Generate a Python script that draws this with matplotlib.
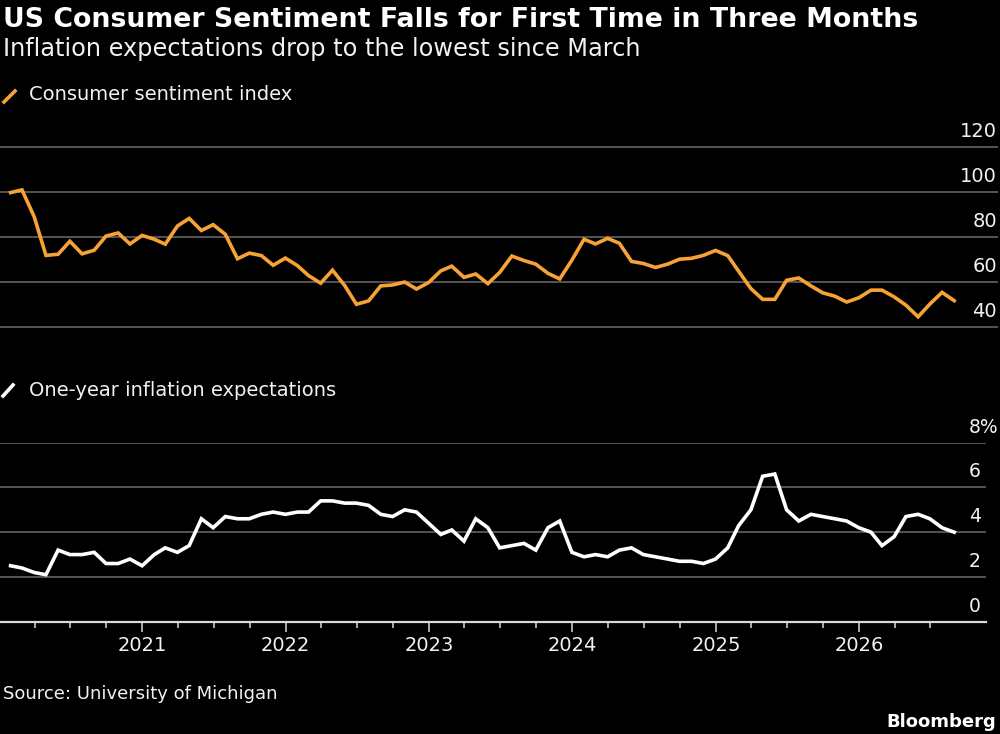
import matplotlib
matplotlib.use('Agg')
import matplotlib.pyplot as plt
import matplotlib.dates as mdates
import matplotlib.transforms as mtransforms
from matplotlib.lines import Line2D
import pandas as pd

# monthly data, Jan 2020 - Aug 2026 (plotted at month end)
dates = pd.date_range('2020-01-31', periods=80, freq='ME')

sentiment = [
    99.8, 101.0, 89.1, 71.8, 72.3, 78.1, 72.5, 74.1, 80.4, 81.8, 76.9, 80.7,
    79.0, 76.8, 84.9, 88.3, 82.9, 85.5, 81.2, 70.3, 72.8, 71.7, 67.4, 70.6,
    67.2, 62.8, 59.4, 65.2, 58.4, 50.0, 51.5, 58.2, 58.6, 59.9, 56.8, 59.7,
    64.9, 67.0, 62.0, 63.5, 59.2, 64.2, 71.5, 69.5, 67.9, 63.8, 61.3, 69.7,
    79.0, 76.9, 79.4, 77.2, 69.1, 68.2, 66.4, 67.9, 70.1, 70.5, 71.8, 74.0,
    71.7, 64.7, 57.0, 52.2, 52.2, 60.7, 61.7, 58.2, 55.1, 53.6, 51.0, 52.9,
    56.3, 56.3, 53.3, 49.6, 44.4, 50.1, 55.3, 51.6,
]

inflation = [
    2.5, 2.4, 2.2, 2.1, 3.2, 3.0, 3.0, 3.1, 2.6, 2.6, 2.8, 2.5,
    3.0, 3.3, 3.1, 3.4, 4.6, 4.2, 4.7, 4.6, 4.6, 4.8, 4.9, 4.8,
    4.9, 4.9, 5.4, 5.4, 5.3, 5.3, 5.2, 4.8, 4.7, 5.0, 4.9, 4.4,
    3.9, 4.1, 3.6, 4.6, 4.2, 3.3, 3.4, 3.5, 3.2, 4.2, 4.5, 3.1,
    2.9, 3.0, 2.9, 3.2, 3.3, 3.0, 2.9, 2.8, 2.7, 2.7, 2.6, 2.8,
    3.3, 4.3, 5.0, 6.5, 6.6, 5.0, 4.5, 4.8, 4.7, 4.6, 4.5, 4.2,
    4.0, 3.4, 3.8, 4.7, 4.8, 4.6, 4.2, 4.0,
]

sent_ticks = [40, 60, 80, 100, 120]
infl_ticks = [0, 2, 4, 6, 8]
infl_labels = ['0', '2', '4', '6', '8%']

title = 'US Consumer Sentiment Falls for First Time in Three Months'
subtitle = 'Inflation expectations drop to the lowest since March'
label_sent = 'Consumer sentiment index'
label_infl = 'One-year inflation expectations'
source = 'Source: University of Michigan'

ORANGE = '#f7a235'
GRID = '#555555'
AXIS = '#d9d9d9'
TEXT = '#f2f2f2'

plt.rcParams['font.family'] = ['DejaVu Sans']

W, H = 1000, 734
fig = plt.figure(figsize=(W / 100, H / 100), dpi=100, facecolor='black')


def px_axes(x0, y_top, x1, y_bot):
    return fig.add_axes([x0 / W, 1 - y_bot / H, (x1 - x0) / W, (y_bot - y_top) / H])


def fy(y):
    return 1 - y / H


xmin = pd.Timestamp('2020-01-04')
xmax = pd.Timestamp('2026-11-20')

ax1 = px_axes(0, 147.3, 986, 326.7)
ax2 = px_axes(0, 442.7, 986, 621.7)

for ax in (ax1, ax2):
    ax.set_facecolor('black')
    ax.set_xlim(xmin, xmax)
    for s in ax.spines.values():
        s.set_visible(False)
    ax.set_yticks([])

# top panel
ax1.set_ylim(40, 120)
ax1.set_xticks([])
for v in sent_ticks:
    ax1.axhline(v, xmin=0, xmax=997 / 986, color=GRID, lw=1.4, clip_on=False, zorder=1)
ax1.plot(dates, sentiment, color=ORANGE, lw=2.6, solid_joinstyle='miter', clip_on=False, zorder=3)
lab_tr = mtransforms.offset_copy(
    mtransforms.blended_transform_factory(fig.transFigure, ax1.transData),
    fig=fig, y=10, units='dots')
for v in sent_ticks:
    ax1.text(997 / W, v, str(v), transform=lab_tr, ha='right', va='baseline',
             color=TEXT, fontsize=14)

# bottom panel
ax2.set_ylim(0, 8)
for v in infl_ticks[1:]:
    ax2.axhline(v, color=GRID, lw=1.4, zorder=1)
ax2.spines['bottom'].set_visible(True)
ax2.spines['bottom'].set_color(AXIS)
ax2.spines['bottom'].set_linewidth(1.6)
ax2.plot(dates, inflation, color='white', lw=2.6, solid_joinstyle='miter', clip_on=False, zorder=3)
lab_tr2 = mtransforms.offset_copy(
    mtransforms.blended_transform_factory(fig.transFigure, ax2.transData),
    fig=fig, y=10, units='dots')
for v, t in zip(infl_ticks, infl_labels):
    ax2.text(969 / W, v, t, transform=lab_tr2, ha='left', va='baseline',
             color=TEXT, fontsize=13.5)

ax2.xaxis.set_major_locator(mdates.YearLocator())
ax2.xaxis.set_major_formatter(mdates.DateFormatter('%Y'))
ax2.tick_params(axis='x', which='major', length=7, width=1.1, color=AXIS,
                labelcolor=TEXT, labelsize=14, pad=3)
ax2.tick_params(axis='x', which='minor', length=4, width=1.1, color=AXIS)
# quarterly minor ticks, none past the last observation
minor = list(pd.date_range('2020-04-01', '2026-07-01', freq='QS'))
ax2.set_xticks(minor, minor=True)

# titles and labels
fig.text(3 / W, fy(27), title, color='white', fontsize=19.3, fontweight='bold', va='baseline')
fig.text(3 / W, fy(56), subtitle, color=TEXT, fontsize=17.3, va='baseline')

fig.add_artist(Line2D([4 / W, 15 / W], [fy(102), fy(91)], color=ORANGE, lw=2.6))
fig.text(29 / W, fy(100), label_sent, color=TEXT, fontsize=14, va='baseline')
fig.add_artist(Line2D([3 / W, 13 / W], [fy(396), fy(385)], color='white', lw=2.6))
fig.text(29 / W, fy(396), label_infl, color=TEXT, fontsize=14, va='baseline')

fig.text(3 / W, fy(699), source, color=TEXT, fontsize=13, va='baseline')
fig.text(996 / W, fy(727), 'Bloomberg', color='white', fontsize=13, fontweight='bold',
         ha='right', va='baseline')

fig.savefig('out.png', dpi=100, facecolor='black')
